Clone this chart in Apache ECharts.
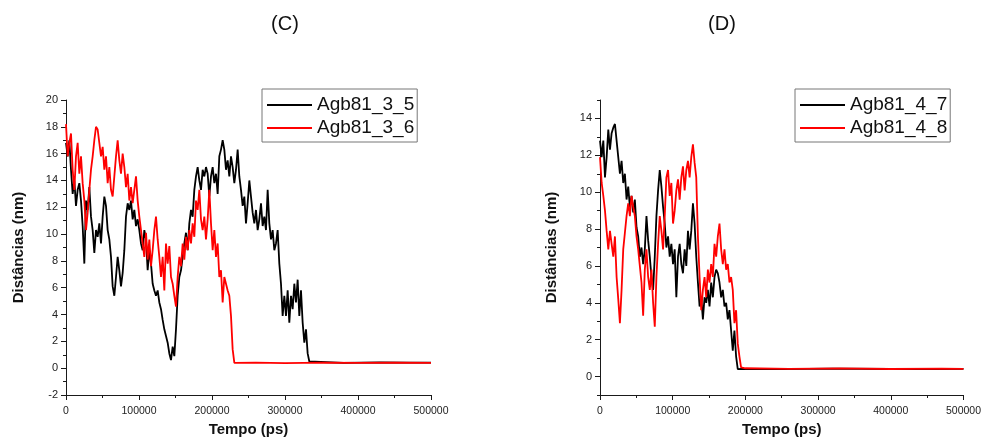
<!DOCTYPE html>
<html>
<head>
<meta charset="utf-8">
<script src="https://cdn.jsdelivr.net/npm/echarts@6/dist/echarts.min.js"></script>
<style>
  html, body { margin: 0; padding: 0; background: #fff; }
  #chart { width: 984px; height: 442px; }
</style>
</head>
<body>
<div id="chart"></div>
<script>
// Trajectory sampling step (ps) for the active part of each run
const STEP_PS = 2283;

// Panel (C): Agb81_3_5 distances (nm), one value per STEP_PS from t = 0
const c35Values = [
  16.8, 15.8, 17.0, 14.8, 13.0, 14.0, 12.1, 13.3, 13.8, 12.5,
  10.6, 7.8, 12.5, 11.8, 13.5, 11.3, 10.3, 8.6, 10.3, 9.8,
  10.8, 9.3, 11.3, 12.8, 12.1, 10.3, 9.6, 8.3, 6.1, 5.4,
  6.8, 8.3, 7.3, 6.1, 7.1, 8.8, 11.3, 12.3, 11.8, 12.5,
  11.1, 11.8, 10.6, 11.1, 10.3, 9.3, 8.8, 10.3, 9.6, 7.3,
  8.8, 7.8, 6.3, 5.8, 5.4, 5.8, 4.9, 4.4, 3.6, 2.9,
  2.4, 1.9, 1.1, 0.6, 1.6, 0.9, 2.9, 5.4, 6.8, 7.3,
  8.3, 9.3, 10.1, 8.8, 10.8, 11.8, 11.3, 13.3, 14.3, 15.0,
  14.0, 13.3, 14.8, 14.3, 15.0, 14.5, 12.8, 14.3, 15.0, 13.8,
  14.5, 13.0, 15.8, 16.3, 17.0, 16.3, 14.8, 15.5, 14.3, 15.8,
  15.0, 13.8, 14.8, 16.3, 14.3, 13.3, 12.1, 12.8, 10.8, 12.3,
  14.0, 12.8, 11.6, 10.8, 11.8, 10.3, 11.1, 12.3, 10.6, 11.3,
  10.3, 13.3, 10.8, 9.6, 10.3, 8.8, 9.3, 10.3, 7.8, 6.3,
  3.9, 5.4, 3.9, 5.8, 3.4, 5.4, 4.4, 6.3, 4.9, 6.6,
  3.9, 5.8, 3.4, 1.9, 2.9, 1.1, 0.5
];
const c35TailTimes = [335500, 380000, 430000, 470000, 500000];
const c35TailValues = [0.42, 0.40, 0.43, 0.41, 0.41];

// Panel (C): Agb81_3_6
const c36Values = [
  18.2, 15.8, 16.8, 17.5, 14.8, 13.3, 15.8, 16.8, 14.5, 15.8,
  13.8, 12.5, 10.3, 11.6, 13.3, 14.8, 15.8, 17.0, 18.0, 17.8,
  16.8, 15.8, 16.5, 14.8, 15.8, 13.8, 15.0, 13.3, 12.8, 14.3,
  15.8, 17.0, 15.5, 14.5, 16.0, 15.0, 13.5, 14.5, 12.5, 13.5,
  12.3, 13.3, 14.3, 12.5, 11.3, 10.3, 9.3, 8.3, 10.1, 8.1,
  9.6, 7.6, 8.8, 10.3, 11.3, 9.6, 8.3, 6.8, 8.3, 5.8,
  9.3, 7.8, 9.1, 6.8, 6.3, 5.4, 4.6, 6.8, 8.3, 7.6,
  9.3, 8.1, 9.8, 8.8, 10.3, 9.3, 10.8, 9.8, 12.5, 11.8,
  13.3, 11.1, 10.3, 11.3, 9.6, 11.1, 13.3, 10.8, 8.8, 10.3,
  8.3, 9.3, 6.8, 7.3, 4.9, 6.8, 6.3, 5.8, 5.4, 3.9,
  1.4
];
const c36TailTimes = [230600, 260000, 300000, 350000, 400000, 450000, 500000];
const c36TailValues = [0.40, 0.42, 0.38, 0.41, 0.39, 0.42, 0.40];

// Panel (D): Agb81_4_7
const d47Values = [
  12.8, 11.9, 12.8, 10.8, 11.9, 13.4, 12.3, 13.2, 13.5, 13.7,
  12.8, 11.9, 11.0, 11.7, 10.5, 11.0, 9.6, 10.3, 9.2, 9.8,
  8.9, 9.6, 8.1, 7.6, 6.5, 7.0, 6.1, 6.9, 8.7, 7.4,
  6.5, 5.4, 4.7, 6.5, 8.7, 10.1, 11.2, 10.3, 9.2, 8.3,
  7.0, 7.6, 6.5, 7.2, 6.1, 6.9, 4.3, 6.5, 7.2, 6.1,
  5.6, 6.9, 6.0, 7.9, 6.9, 7.9, 9.4, 8.3, 6.5, 5.1,
  3.8, 4.3, 3.1, 4.3, 4.0, 4.7, 3.8, 5.1, 4.3, 5.4,
  5.8, 5.6, 5.1, 4.3, 4.7, 3.8, 4.0, 3.1, 3.6, 2.5,
  1.4, 2.5, 1.1, 0.4
];
const d47TailTimes = [195000, 250000, 320000, 400000, 460000, 500000];
const d47TailValues = [0.42, 0.40, 0.43, 0.41, 0.40, 0.42];

// Panel (D): Agb81_4_8
const d48Values = [
  11.9, 10.5, 9.8, 9.0, 7.9, 6.9, 7.9, 7.2, 6.5, 7.6,
  5.4, 4.2, 2.9, 4.7, 6.9, 7.8, 8.7, 9.4, 8.7, 9.8,
  9.2, 8.7, 7.6, 6.9, 6.0, 5.1, 3.3, 5.8, 6.9, 5.4,
  4.7, 5.8, 4.0, 2.7, 5.4, 7.2, 8.7, 7.9, 6.9, 8.7,
  10.8, 11.2, 9.8, 10.5, 8.3, 9.0, 10.1, 10.7, 9.6, 10.8,
  11.4, 10.1, 11.2, 11.7, 10.8, 11.9, 12.6, 11.6, 10.8, 7.6,
  5.4, 3.6, 4.7, 5.4, 4.3, 5.8, 5.1, 6.1, 5.4, 7.2,
  6.5, 7.6, 8.3, 6.9, 6.1, 6.9, 5.8, 6.1, 5.1, 5.4,
  4.7, 2.9, 3.6, 1.8, 1.1, 0.5, 0.4
];
const d48TailTimes = [200000, 260000, 330000, 400000, 470000, 500000];
const d48TailValues = [0.45, 0.42, 0.44, 0.41, 0.43, 0.42];

// Axis tick values
const timeTicks = { min: 0, max: 500000, interval: 100000 };
const leftDistRange = { min: -2, max: 20, interval: 2 };
const rightDistRange = { min: -1, max: 15 };
const rightDistLabels = [0, 2, 4, 6, 8, 10, 12, 14];
const rightDistMinor = [-1, 1, 3, 5, 7, 9, 11, 13, 15];

const seriesNames = ['Agb81_3_5', 'Agb81_3_6', 'Agb81_4_7', 'Agb81_4_8'];

function toPoints(values, tailTimes, tailValues) {
  const pts = values.map((v, i) => [i * STEP_PS, v]);
  tailTimes.forEach((t, i) => pts.push([t, tailValues[i]]));
  return pts;
}

const FONT = '"Liberation Sans", Arial, sans-serif';
const INK = '#1a1a1a';
const LINE_W = 1.8;

function timeAxis(gridIndex) {
  return {
    gridIndex, type: 'value',
    min: timeTicks.min, max: timeTicks.max, interval: timeTicks.interval,
    axisLine: { show: true, onZero: false, lineStyle: { color: INK, width: 1 } },
    axisTick: { show: true, length: 5, lineStyle: { color: INK } },
    minorTick: { show: true, splitNumber: 2, length: 3, lineStyle: { color: INK } },
    splitLine: { show: false },
    axisLabel: { formatter: v => String(v), fontSize: 10.5, color: '#222', margin: 11, fontFamily: FONT },
    name: 'Tempo (ps)', nameLocation: 'middle', nameGap: 25,
    nameTextStyle: { fontWeight: 'bold', fontSize: 15, color: '#111', fontFamily: FONT }
  };
}

const distName = {
  name: 'Distâncias (nm)', nameLocation: 'middle', nameRotate: 90,
  nameTextStyle: { fontWeight: 'bold', fontSize: 15, color: '#111', fontFamily: FONT }
};

const chart = echarts.init(document.getElementById('chart'), null, { renderer: 'canvas' });

const option = {
  animation: false,
  backgroundColor: '#fff',
  textStyle: { fontFamily: FONT },
  grid: [
    { left: 66, top: 100, width: 365, height: 295 },
    { left: 600, top: 100, width: 365, height: 295 }
  ],
  graphic: [
    { type: 'text', x: 285, y: 24, style: { text: '(C)', font: '20px ' + FONT, fill: '#111', textAlign: 'center', textVerticalAlign: 'middle' } },
    { type: 'text', x: 722, y: 24, style: { text: '(D)', font: '20px ' + FONT, fill: '#111', textAlign: 'center', textVerticalAlign: 'middle' } }
  ],
  legend: [
    {
      data: [seriesNames[0], seriesNames[1]], orient: 'vertical', left: 262, top: 89,
      icon: 'rect', itemWidth: 45, itemHeight: 2, itemGap: 1, padding: [5, 3, 3, 5],
      borderColor: '#777', borderWidth: 1, selectedMode: false,
      textStyle: { fontSize: 19, color: '#111', lineHeight: 22, fontFamily: FONT }
    },
    {
      data: [seriesNames[2], seriesNames[3]], orient: 'vertical', left: 795, top: 89,
      icon: 'rect', itemWidth: 45, itemHeight: 2, itemGap: 1, padding: [5, 3, 3, 5],
      borderColor: '#777', borderWidth: 1, selectedMode: false,
      textStyle: { fontSize: 19, color: '#111', lineHeight: 22, fontFamily: FONT }
    }
  ],
  xAxis: [timeAxis(0), timeAxis(1)],
  yAxis: [
    Object.assign({
      gridIndex: 0, type: 'value', position: 'left',
      min: leftDistRange.min, max: leftDistRange.max, interval: leftDistRange.interval,
      axisLine: { show: true, onZero: false, lineStyle: { color: INK, width: 1 } },
      axisTick: { show: true, length: 5, lineStyle: { color: INK } },
      minorTick: { show: true, splitNumber: 2, length: 3, lineStyle: { color: INK } },
      splitLine: { show: false },
      axisLabel: { fontSize: 11, color: '#222', margin: 8 },
      nameGap: 40
    }, distName),
    Object.assign({
      gridIndex: 1, type: 'value', position: 'left',
      min: rightDistRange.min, max: rightDistRange.max,
      axisLine: { show: true, onZero: false, lineStyle: { color: INK, width: 1 } },
      axisTick: { show: true, length: 5, customValues: rightDistLabels, lineStyle: { color: INK } },
      splitLine: { show: false },
      axisLabel: { fontSize: 11, color: '#222', margin: 8, customValues: rightDistLabels },
      nameGap: 41
    }, distName),
    {
      // minor ticks at odd distances, sharing the left edge of panel (D)
      gridIndex: 1, type: 'value', position: 'left', offset: 0,
      min: rightDistRange.min, max: rightDistRange.max,
      axisLine: { show: false, onZero: false },
      axisTick: { show: true, length: 3, customValues: rightDistMinor, lineStyle: { color: INK } },
      axisLabel: { show: false },
      splitLine: { show: false }
    }
  ],
  series: [
    { name: seriesNames[0], type: 'line', xAxisIndex: 0, yAxisIndex: 0, symbol: 'none',
      lineStyle: { color: '#000', width: LINE_W }, itemStyle: { color: '#000' },
      data: toPoints(c35Values, c35TailTimes, c35TailValues) },
    { name: seriesNames[1], type: 'line', xAxisIndex: 0, yAxisIndex: 0, symbol: 'none',
      lineStyle: { color: '#ff0000', width: LINE_W }, itemStyle: { color: '#ff0000' },
      data: toPoints(c36Values, c36TailTimes, c36TailValues) },
    { name: seriesNames[2], type: 'line', xAxisIndex: 1, yAxisIndex: 1, symbol: 'none',
      lineStyle: { color: '#000', width: LINE_W }, itemStyle: { color: '#000' },
      data: toPoints(d47Values, d47TailTimes, d47TailValues) },
    { name: seriesNames[3], type: 'line', xAxisIndex: 1, yAxisIndex: 1, symbol: 'none',
      lineStyle: { color: '#ff0000', width: LINE_W }, itemStyle: { color: '#ff0000' },
      data: toPoints(d48Values, d48TailTimes, d48TailValues) }
  ]
};

chart.setOption(option);
</script>
</body>
</html>
